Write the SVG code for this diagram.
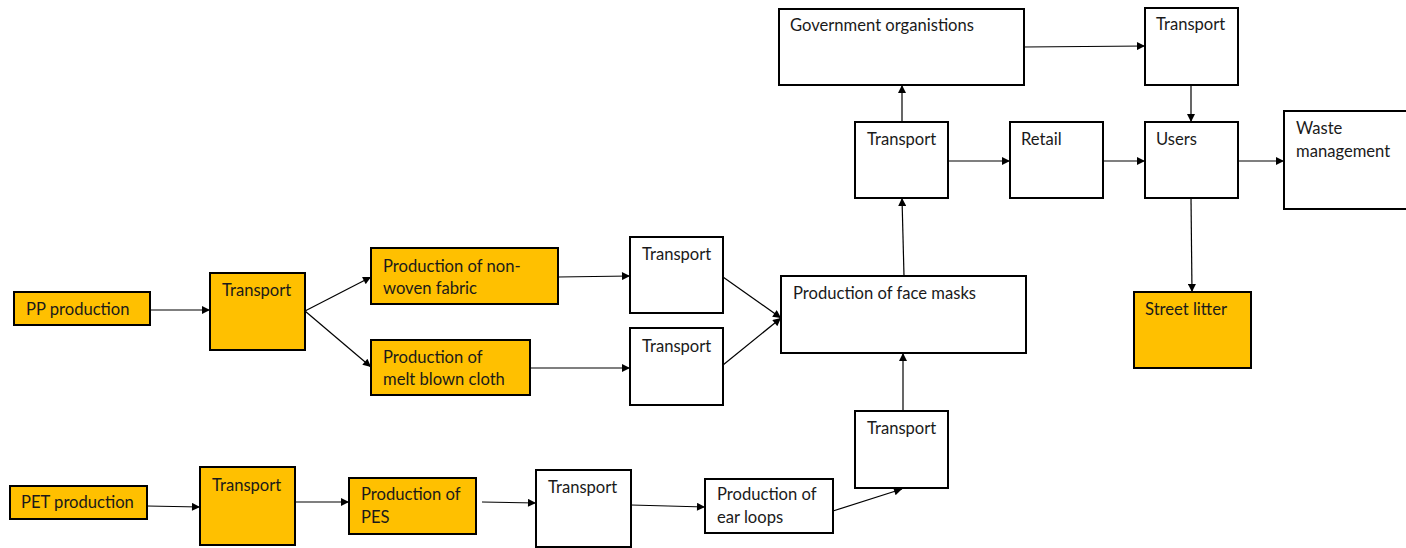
<svg xmlns="http://www.w3.org/2000/svg" width="1406" height="548" viewBox="0 0 1406 548">
  <style>
    .box { stroke: #000; stroke-width: 2; }
    .orange { fill: #FFC000; }
    .white { fill: #FFFFFF; }
    text { font-family: Lato, "Open Sans", sans-serif; font-size: 16.6px; fill: #1a1a1a; }
    .edge { stroke: #000; stroke-width: 1.2; fill: none; marker-end: url(#arrow); }
  </style>
  <defs>
    <marker id="arrow" viewBox="0 0 10 10" refX="10" refY="5" markerWidth="10" markerHeight="8" markerUnits="userSpaceOnUse" orient="auto">
      <path d="M0,0 L10,5 L0,10 Z" fill="#000"/>
    </marker>
  </defs>
  <rect width="1406" height="548" fill="#fff"/>

  <g id="connectors">
    <line class="edge" x1="150" y1="310" x2="210" y2="310"/>
    <line class="edge" x1="305" y1="311" x2="371" y2="277"/>
    <line class="edge" x1="305" y1="311" x2="371" y2="367"/>
    <line class="edge" x1="558" y1="277" x2="630" y2="276"/>
    <line class="edge" x1="530" y1="368" x2="630" y2="368"/>
    <line class="edge" x1="723" y1="277" x2="781" y2="318"/>
    <line class="edge" x1="723" y1="365" x2="781" y2="318"/>
    <line class="edge" x1="904" y1="276" x2="902" y2="198"/>
    <line class="edge" x1="902" y1="122" x2="902" y2="85"/>
    <line class="edge" x1="1024" y1="47" x2="1145" y2="46"/>
    <line class="edge" x1="1191" y1="85" x2="1191" y2="122"/>
    <line class="edge" x1="948" y1="161" x2="1010" y2="161"/>
    <line class="edge" x1="1103" y1="161" x2="1145" y2="161"/>
    <line class="edge" x1="1238" y1="161" x2="1284" y2="161"/>
    <line class="edge" x1="1191" y1="198" x2="1192" y2="292"/>
    <line class="edge" x1="147" y1="506" x2="200" y2="507"/>
    <line class="edge" x1="295" y1="502" x2="349" y2="502"/>
    <line class="edge" x1="482" y1="502" x2="536" y2="503"/>
    <line class="edge" x1="631" y1="505" x2="705" y2="507"/>
    <line class="edge" x1="833" y1="511" x2="902" y2="489"/>
    <line class="edge" x1="903" y1="411" x2="903" y2="353"/>
  </g>

  <g id="pp-production">
    <rect class="box orange" x="14" y="292" width="136" height="33"/>
    <text x="26" y="315">PP production</text>
  </g>
  <g id="transport-pp">
    <rect class="box orange" x="210" y="273" width="95" height="77"/>
    <text x="222" y="296">Transport</text>
  </g>
  <g id="non-woven">
    <rect class="box orange" x="371" y="248" width="187" height="56"/>
    <text x="383" y="272">Production of non-</text>
    <text x="383" y="294">woven fabric</text>
  </g>
  <g id="melt-blown">
    <rect class="box orange" x="371" y="340" width="159" height="55"/>
    <text x="383" y="363">Production of</text>
    <text x="383" y="385">melt blown cloth</text>
  </g>
  <g id="transport-fabric">
    <rect class="box white" x="630" y="237" width="93" height="76"/>
    <text x="642" y="260">Transport</text>
  </g>
  <g id="transport-cloth">
    <rect class="box white" x="630" y="328" width="93" height="77"/>
    <text x="642" y="352">Transport</text>
  </g>
  <g id="face-masks">
    <rect class="box white" x="781" y="276" width="245" height="77"/>
    <text x="793" y="299">Production of face masks</text>
  </g>
  <g id="transport-masks">
    <rect class="box white" x="855" y="122" width="93" height="76"/>
    <text x="867" y="145">Transport</text>
  </g>
  <g id="government">
    <rect class="box white" x="779" y="9" width="245" height="76"/>
    <text x="790" y="31">Government organistions</text>
  </g>
  <g id="transport-gov">
    <rect class="box white" x="1145" y="8" width="93" height="77"/>
    <text x="1156" y="30">Transport</text>
  </g>
  <g id="retail">
    <rect class="box white" x="1010" y="122" width="93" height="76"/>
    <text x="1021" y="145">Retail</text>
  </g>
  <g id="users">
    <rect class="box white" x="1145" y="122" width="93" height="76"/>
    <text x="1156" y="145">Users</text>
  </g>
  <g id="waste-management">
    <rect class="box white" x="1284" y="111" width="130" height="98"/>
    <text x="1296" y="134">Waste</text>
    <text x="1296" y="157">management</text>
  </g>
  <g id="street-litter">
    <rect class="box orange" x="1134" y="292" width="117" height="76"/>
    <text x="1145" y="315">Street litter</text>
  </g>
  <g id="pet-production">
    <rect class="box orange" x="10" y="486" width="137" height="33"/>
    <text x="21" y="508">PET production</text>
  </g>
  <g id="transport-pet">
    <rect class="box orange" x="200" y="467" width="95" height="78"/>
    <text x="212" y="491">Transport</text>
  </g>
  <g id="pes">
    <rect class="box orange" x="349" y="478" width="127" height="56"/>
    <text x="361" y="500">Production of</text>
    <text x="361" y="523">PES</text>
  </g>
  <g id="transport-pes">
    <rect class="box white" x="536" y="470" width="95" height="77"/>
    <text x="548" y="493">Transport</text>
  </g>
  <g id="ear-loops">
    <rect class="box white" x="705" y="479" width="128" height="54"/>
    <text x="717" y="500">Production of</text>
    <text x="717" y="523">ear loops</text>
  </g>
  <g id="transport-loops">
    <rect class="box white" x="855" y="411" width="93" height="77"/>
    <text x="867" y="434">Transport</text>
  </g>
</svg>
